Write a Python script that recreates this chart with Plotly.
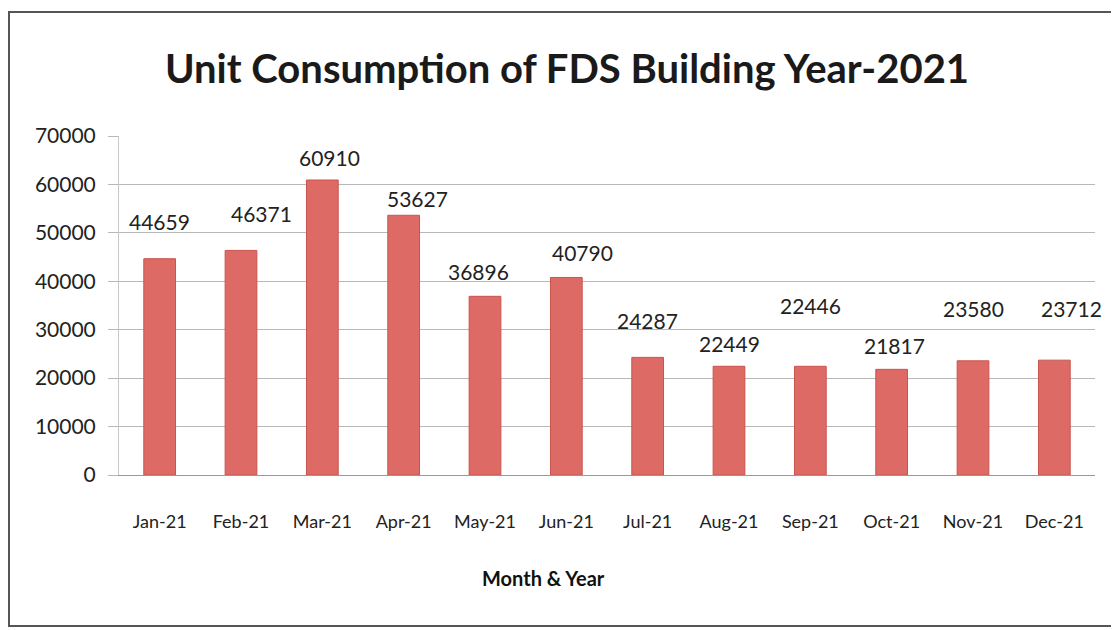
import plotly.graph_objects as go

months = ["Jan-21", "Feb-21", "Mar-21", "Apr-21", "May-21", "Jun-21",
          "Jul-21", "Aug-21", "Sep-21", "Oct-21", "Nov-21", "Dec-21"]
units = [44659, 46371, 60910, 53627, 36896, 40790,
         24287, 22449, 22446, 21817, 23580, 23712]
# offsets (px) of the data labels from bar tops, as placed in the reference
label_yshift = [37, 37, 23, 17, 25, 25, 37, 23, 61, 24, 52, 52]
label_xshift = [0, 20, 7, 14, -7, 16, 0, 0, 0, 3, 0, 17]

FONT = "Lato"

# page has an 8px body margin, so the figure is sized/offset to compensate
W, H = 1111, 622
L, R, T, B = 111, 24, 128, 155
pw, ph = W - L - R, H - T - B
OFF = 8

def px_x(p):  # page pixel x -> paper x
    return (p - OFF - L) / pw

def px_y(p):  # page pixel y -> paper y
    return (H - B - (p - OFF)) / ph

fig = go.Figure()
fig.add_trace(go.Bar(
    x=months, y=units,
    marker=dict(color="#DD6A64", line=dict(color="#C9544E", width=1)),
    width=0.39,
    hoverinfo="x+y",
))

for m, v, sy, sx in zip(months, units, label_yshift, label_xshift):
    fig.add_annotation(x=m, y=v, text=str(v), showarrow=False,
                       yshift=sy, xshift=sx,
                       font=dict(family=FONT, size=21, color="#222"))

# x-axis title, positioned as in the reference (left of plot centre)
fig.add_annotation(xref="paper", yref="paper", x=px_x(543), y=px_y(578),
                   xanchor="center", yanchor="middle", showarrow=False,
                   text="<b>Month & Year</b>",
                   font=dict(family=FONT, size=20, color="#111"))

fig.update_layout(
    width=W, height=H,
    margin=dict(l=L, r=R, t=T, b=B),
    paper_bgcolor="white", plot_bgcolor="white",
    showlegend=False,
    title=dict(text="<b>Unit Consumption of FDS Building Year-2021</b>",
               x=px_x(567), xref="paper", xanchor="center",
               y=1 - 61 / H, yanchor="middle",
               font=dict(family=FONT, size=40, color="#1a1a1a")),
    xaxis=dict(
        range=[-0.5, len(months) - 0.5],
        tickfont=dict(family=FONT, size=18, color="#222"),
        ticklabelstandoff=30,
        showline=True, linecolor="#999", linewidth=1,
    ),
    yaxis=dict(
        range=[0, 70000], dtick=10000, tickformat="d",
        tickfont=dict(family=FONT, size=21, color="#222"),
        showgrid=True, gridcolor="#B8B8B8", gridwidth=1,
        ticks="outside", ticklen=10, tickcolor="#B8B8B8",
        ticklabelstandoff=8,
        showline=True, linecolor="#C8C8C8", linewidth=1,
        zeroline=False,
    ),
    shapes=[dict(type="rect", xref="paper", yref="paper",
                 x0=px_x(9), x1=px_x(1112),
                 y0=px_y(626), y1=px_y(12),
                 line=dict(color="#555", width=2))],
)

fig.write_html("out.html")
